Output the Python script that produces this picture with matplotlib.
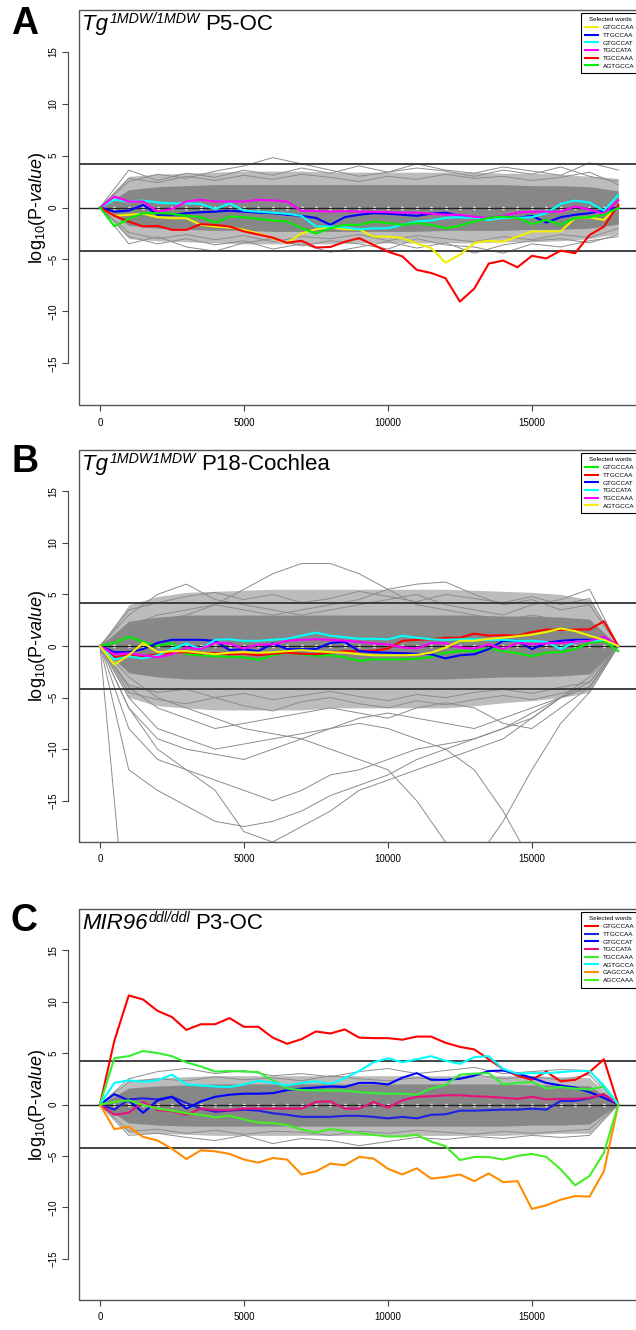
import numpy as np
import matplotlib
matplotlib.use('Agg')
import matplotlib.pyplot as plt
from matplotlib.patches import Rectangle

plt.rcParams['font.family'] = ['Liberation Sans', 'DejaVu Sans']
plt.rcParams['mathtext.fontset'] = 'custom'
plt.rcParams['mathtext.rm'] = 'Liberation Sans'
plt.rcParams['mathtext.it'] = 'Liberation Sans:italic'
plt.rcParams['mathtext.bf'] = 'Liberation Sans:bold'

nan = np.nan

# sample positions of the word curves
X = [0, 500, 1000, 1500, 2000, 2500, 3000, 3500, 4000, 4500, 5000, 5500, 6000,
     6500, 7000, 7500, 8000, 8500, 9000, 9500, 10000, 10500, 11000, 11500,
     12000, 12500, 13000, 13500, 14000, 14500, 15000, 15500, 16000, 16500,
     17000, 17500, 18000]
# coarse grid for the grey background bundle
GX = [0, 1000, 2000, 3000, 4000, 5000, 6000, 7000, 8000, 9000, 10000, 11000,
      12000, 13000, 14000, 15000, 16000, 17000, 18000]

# ---------------- panel A ----------------
A_words = ['GTGCCAA', 'TTGCCAA', 'GTGCCAT', 'TGCCATA', 'TGCCAAA', 'AGTGCCA']
A_colors = ['#f0f000', '#0000ff', '#00ffff', '#ff00ff', '#ff0000', '#00ee00']
A_yellow = [0, -0.8, -0.7, -0.6, -0.93, -1.03, -1.03, -1.67, -1.83, -1.93, -2.15, -2.5, -2.95,
            -3.4, -2.5, -2.1, -1.9, -2.1, -2.1, -2.8, -2.8, -2.95, -3.45, -3.9, -5.3, -4.55,
            -3.4, -3.2, -3.3, -2.8, -2.3, -2.3, -2.3, -1.0, -0.95, -1.2, 0.25]
A_blue = [0, -0.4, -0.3, 0.25, -0.7, -0.7, -0.55, -0.45, -0.4, -0.3, -0.4, -0.5, -0.55, -0.7,
          -0.8, -1.0, -1.67, -0.93, -0.7, -0.55, -0.6, -0.7, -0.8, -0.6, -0.5, -0.8, -0.93,
          -1.1, -0.87, -1.0, -0.8, -1.45, -0.93, -0.7, -0.55, -0.3, 0.05]
A_cyan = [0, 0.74, 0.58, 0.67, 0.48, 0.4, 0.4, 0.35, -0.15, 0.4, -0.3, -0.4, -0.5, -0.6, -0.8,
          -1.83, -1.83, -1.9, -2.1, -2.0, -2.0, -1.67, -1.35, -1.25, -1.0, -0.93, -1.0, -1.2,
          -1.0, -1.0, -0.93, -0.55, 0.35, 0.67, 0.48, -0.3, 1.2]
A_magenta = [0, 1.05, 0.58, 0.58, -0.4, -0.15, 0.58, 0.74, 0.58, 0.58, 0.58, 0.74, 0.67, 0.58,
             -0.32, -0.32, -0.4, -0.35, -0.4, -0.4, -0.45, -0.5, -0.5, -0.6, -0.7, -0.7, -0.9,
             -1.0, -0.8, -0.5, -0.4, -0.4, -0.4, 0.1, -0.2, -0.6, 0.7]
A_red = [0, -0.8, -1.35, -1.83, -1.77, -2.15, -2.15, -1.6, -1.68, -1.83, -2.3, -2.6, -2.9, -3.4,
         -3.2, -3.85, -3.8, -3.3, -2.95, -3.6, -4.25, -4.7, -6.0, -6.3, -6.8, -9.05, -7.8, -5.4,
         -5.1, -5.75, -4.65, -4.9, -4.15, -4.4, -2.65, -1.85, 0.25]
A_green = [0, -1.8, -1.1, -0.55, -0.55, -0.6, -0.8, -0.93, -1.45, -0.87, -0.93, -1.1, -1.25,
           -1.35, -2.0, -2.5, -2.0, -1.67, -1.67, -1.35, -1.5, -1.67, -1.5, -1.67, -2.0, -1.75,
           -1.35, -1.0, -0.87, -1.0, -1.6, -1.2, -1.67, -1.0, -0.93, -0.7, -0.05]
A_band_hi = [0, 3.0, 3.2, 3.3, 3.4, 3.5, 3.5, 3.5, 3.4, 3.4, 3.4, 3.4, 3.4, 3.4, 3.3, 3.3, 3.2, 3.0, 2.8]
A_band_lo = [0, -3.0, -3.2, -3.3, -3.4, -3.5, -3.5, -3.5, -3.5, -3.4, -3.4, -3.4, -3.4, -3.4, -3.3, -3.3, -3.2, -3.0, -2.5]
A_core_hi = [0, 1.7, 2.0, 2.1, 2.2, 2.2, 2.2, 2.2, 2.2, 2.2, 2.2, 2.2, 2.2, 2.2, 2.2, 2.1, 2.1, 2.0, 1.6]
A_core_lo = [0, -1.7, -2.0, -2.1, -2.2, -2.2, -2.3, -2.3, -2.3, -2.3, -2.3, -2.3, -2.2, -2.2, -2.2, -2.1, -2.1, -2.0, -1.6]
A_grey = [
    [0, 2.5, 3.2, 2.8, 3.5, 4.0, 4.8, 4.2, 3.6, 3.0, 3.4, 3.8, 3.5, 3.0, 3.6, 3.2, 3.9, 3.0, 2.5],
    [0, 3.6, 2.6, 3.3, 2.9, 3.6, 3.1, 3.8, 3.3, 4.0, 3.4, 4.2, 3.6, 3.3, 3.9, 3.5, 3.1, 4.3, 3.6],
    [0, 2.8, 2.4, 3.0, 2.6, 3.1, 2.7, 3.2, 2.9, 2.5, 3.0, 2.7, 3.2, 2.8, 3.0, 2.6, 2.9, 3.4, 2.2],
    [0, -2.8, -3.5, -3.0, -3.6, -3.2, -4.0, -3.5, -4.3, -3.8, -3.3, -3.9, -3.4, -4.4, -3.6, -3.2, -3.0, -3.4, -2.6],
    [0, -3.5, -2.8, -3.8, -4.2, -3.4, -3.0, -3.7, -3.2, -3.5, -4.0, -3.0, -3.6, -3.8, -4.4, -3.5, -3.8, -3.2, -2.8],
    [0, -2.4, -3.0, -2.6, -3.1, -2.7, -3.3, -2.8, -3.0, -2.6, -3.2, -2.7, -3.0, -3.3, -2.8, -3.1, -2.6, -2.9, -2.0],
]

# ---------------- panel B ----------------
B_words = ['GTGCCAA', 'TTGCCAA', 'GTGCCAT', 'TGCCATA', 'TGCCAAA', 'AGTGCCA']
B_colors = ['#00ee00', '#ff0000', '#0000ff', '#00ffff', '#ff00ff', '#f0f000']
B_green = [0, 0.3, 0.9, 0.4, 0, 0.3, -0.8, -0.9, -1.0, -1.05, -1.1, -1.35, -0.9, -0.65, -0.8,
           -0.95, -0.9, -1.1, -1.45, -1.3, -1.3, -1.3, -1.25, -1.05, -0.65, -0.5, -0.5, -0.25,
           -0.5, -0.7, -1.0, -0.65, -0.6, -0.3, 0.3, 0.5, -0.5]
B_red = [0, -1.1, -0.9, -1.0, -0.8, -0.65, -0.6, -0.7, -0.7, -0.8, -0.75, -0.9, -0.75, -0.65,
         -0.75, -0.8, -0.65, -0.5, -0.5, -0.45, -0.25, 0.5, 0.6, 0.65, 0.8, 0.8, 1.2, 1.0, 1.05,
         1.0, 1.35, 1.6, 1.55, 1.6, 1.6, 2.4, 0]
B_blue = [0, -0.6, -0.6, -0.3, 0.3, 0.6, 0.6, 0.6, 0.5, -0.4, -0.3, -0.5, 0.25, -0.3, -0.3, -0.3,
          0.3, 0.4, -0.5, -0.6, -0.65, -0.7, -0.75, -0.8, -1.2, -0.9, -0.8, -0.3, 0.5, 0.5, -0.3,
          0.3, 0.5, 0.6, 0.6, 0.65, 0]
B_cyan = [0, -1.3, -1.0, -1.2, -0.9, -0.3, 0.25, -0.3, 0.6, 0.65, 0.5, 0.5, 0.6, 0.7, 1.0, 1.3,
          1.0, 0.85, 0.7, 0.7, 0.65, 1.0, 0.8, 0.65, 0.6, 0.65, 0.65, 0.6, 0.6, 0.5, 0.5, 0.4,
          -0.3, 0.4, 0.5, 0.6, 0]
B_magenta = [0, -0.8, -0.7, -0.9, -1.1, -0.8, -0.15, -0.3, 0.3, 0.25, -0.25, 0.15, 0.15, 0.5, 0.6,
             0.65, 0.6, 0.5, 0.4, 0.25, 0.15, -0.15, -0.25, 0.3, 0.25, -0.15, -0.25, 0.15, -0.3,
             0.3, 0.15, 0.25, 0.3, 0.4, 0.5, 0.9, 0]
B_yellow = [0, -1.8, -0.9, 0.3, -0.6, -0.5, -0.5, -0.65, -0.8, -0.65, -0.6, -0.65, -0.6, -0.5,
            -0.4, -0.5, -0.6, -0.65, -0.8, -0.9, -0.9, -0.9, -0.85, -0.65, -0.15, 0.5, 0.5, 0.7,
            0.8, 0.95, 1.1, 1.35, 1.7, 1.45, 1.0, 0.6, 0]
B_band_hi = [0, 4.0, 4.8, 5.2, 5.3, 5.4, 5.5, 5.5, 5.5, 5.5, 5.5, 5.5, 5.5, 5.4, 5.3, 5.2, 5.0, 4.5, 0]
B_band_lo = [0, -5.0, -5.8, -6.0, -6.2, -6.2, -6.2, -6.2, -6.0, -6.0, -6.0, -6.0, -6.0, -5.8, -5.5, -5.3, -5.0, -4.5, 0]
B_core_hi = [0, 2.4, 2.8, 3.0, 3.0, 3.0, 3.0, 3.0, 3.0, 3.0, 3.0, 3.0, 3.0, 3.0, 2.9, 2.9, 2.8, 2.6, 0]
B_core_lo = [0, -2.6, -3.0, -3.2, -3.2, -3.2, -3.2, -3.2, -3.2, -3.2, -3.2, -3.2, -3.2, -3.1, -3.0, -3.0, -2.9, -2.7, 0]
B_grey = [
    [0, 1.5, 2.5, 3.0, 4.0, 5.5, 7.0, 8.0, 8.0, 7.0, 5.5, 4.0, 3.5, 3.0, 2.5, 3.0, 2.5, 2.0, 0],
    [0, 3.0, 5.0, 6.0, 4.5, 4.0, 3.5, 3.0, 3.5, 4.0, 4.5, 5.0, 4.0, 3.5, 3.0, 4.0, 4.5, 5.5, 0],
    [0, 2.0, 3.0, 3.5, 4.0, 3.5, 3.0, 3.5, 4.0, 4.5, 5.5, 6.0, 6.2, 5.0, 4.0, 4.5, 3.5, 4.0, 0],
    [0, 3.5, 4.2, 4.8, 5.2, 4.5, 5.0, 4.2, 4.6, 5.3, 4.8, 4.3, 5.0, 4.6, 4.2, 4.8, 4.0, 4.6, 0],
    [0, -6, -10, -12, -14, -18, -19, -17.5, -16, -14, -13, -12, -11, -10, -9, -7, -5, -4, 0],
    [0, -8, -11, -12, -13, -14, -15, -14, -12.5, -12, -11, -10, -9.5, -9, -8, -7, -5, -3, 0],
    [0, -5, -8, -9, -10, -9.5, -9, -8.5, -8, -7.5, -8, -9, -10, -12, -16, -21, nan, nan, nan],
    [0, -3, -5, -6, -7, -8, -8.5, -9, -10, -11, -12, -15, -19, -21, -17, -12, -7.5, -4.5, 0],
    [0, -30, nan, nan, nan, nan, nan, nan, nan, nan, nan, nan, nan, nan, nan, nan, nan, nan, nan],
    [0, -6, -9, -10, -10.5, -11, -10, -9, -8, -7, -6.5, -7, -7.5, -8, -7, -6, -5, -4, 0],
    [0, -4, -6, -7, -8, -7.5, -7, -6.5, -6, -6.5, -7, -6, -5.5, -6, -7.5, -8, -6, -4, 0],
    [0, -12, -14, -15.5, -17, -17.5, -17, -16, -14.5, -13.5, -12.5, -11, -10, -9, -8, -6.5, -5, -3.5, 0],
    [0, -4.5, -5.2, -5.6, -5.0, -5.8, -6.3, -5.4, -5.0, -5.6, -6.0, -5.3, -5.7, -5.2, -4.8, -5.2, -4.6, -4.0, 0],
    [0, -3.8, -4.5, -4.2, -5.0, -4.6, -5.2, -4.8, -4.4, -4.9, -5.3, -4.7, -5.0, -4.5, -4.2, -4.6, -4.0, -3.5, 0],
]

# ---------------- panel C ----------------
C_words = ['GTGCCAA', 'TTGCCAA', 'GTGCCAT', 'TGCCATA', 'TGCCAAA', 'AGTGCCA', 'GAGCCAA', 'AGCCAAA']
C_colors = ['#ff0000', '#2020e0', '#0000ff', '#e8107a', '#33ee33', '#00ffff', '#ff8c00', '#44ee22']
C_red = [0, 6.2, 10.6, 10.2, 9.1, 8.5, 7.25, 7.8, 7.8, 8.4, 7.55, 7.55, 6.5, 5.9, 6.35, 7.1, 6.9,
         7.3, 6.5, 6.45, 6.45, 6.3, 6.6, 6.6, 6.0, 5.6, 5.35, 4.4, 3.45, 2.8, 2.4, 3.2, 2.25, 2.4,
         3.15, 4.4, 0]
C_blue_lo = [0, -0.5, 0.5, 0.6, 0.5, 0.75, 0.15, -0.4, -0.7, -0.6, -0.5, -0.6, -0.85, -1.0, -1.2,
             -1.2, -1.2, -1.1, -1.1, -1.2, -1.35, -1.2, -1.35, -1.0, -0.95, -0.6, -0.6, -0.55,
             -0.5, -0.5, -0.4, -0.5, 0.35, 0.35, 0.6, 1.0, 0]
C_blue_hi = [0, 1.0, 0.4, -0.8, 0.4, 0.75, -0.4, 0.3, 0.75, 0.95, 1.05, 1.05, 1.1, 1.4, 1.55, 1.65,
             1.75, 1.7, 2.1, 2.1, 1.95, 2.6, 3.05, 2.4, 2.4, 2.5, 2.8, 3.25, 3.3, 3.0, 2.6, 2.1,
             1.85, 1.65, 1.2, 0.65, 0]
C_pink = [0, -1.0, -0.8, 0.25, -0.55, -0.65, -1.0, -0.4, -0.55, -0.55, -0.4, -0.4, -0.4, -0.4,
          -0.4, 0.25, 0.3, -0.4, -0.4, 0.25, -0.3, 0.4, 0.75, 0.8, 0.9, 0.9, 0.8, 0.75, 0.65,
          0.55, 0.75, 0.5, 0.55, 0.55, 0.65, 1.0, 0]
C_green_hi = [0, 4.5, 4.7, 5.2, 5.0, 4.7, 4.1, 3.7, 3.2, 3.25, 3.2, 3.15, 2.35, 1.55, 1.4, 1.35,
              1.35, 1.35, 1.2, 1.1, 1.05, 1.05, 0.95, 1.55, 1.9, 2.9, 3.0, 3.05, 1.95, 2.1, 2.2,
              1.55, 1.7, 1.55, 1.45, 1.75, 0]
C_cyan = [0, 2.1, 2.35, 2.2, 2.35, 2.9, 1.95, 1.85, 1.75, 1.7, 1.95, 2.3, 2.1, 1.85, 2.1, 2.25,
          2.0, 2.55, 3.25, 4.1, 4.5, 4.1, 4.4, 4.7, 4.25, 3.95, 4.6, 4.7, 3.45, 3.0, 3.05, 3.05,
          3.15, 3.25, 3.25, 1.85, 0]
C_orange = [0, -2.4, -2.15, -3.15, -3.5, -4.3, -5.3, -4.45, -4.55, -4.8, -5.35, -5.65, -5.2,
            -5.35, -6.8, -6.5, -5.75, -5.9, -5.1, -5.25, -6.25, -6.8, -6.2, -7.2, -7.05, -6.8,
            -7.45, -6.7, -7.55, -7.45, -10.15, -9.8, -9.25, -8.9, -8.95, -6.5, 0]
C_green_lo = [0, 0.25, 0.4, -0.05, -0.4, -0.6, -0.85, -1.0, -1.25, -1.1, -1.45, -1.75, -1.8, -2.0,
              -2.45, -2.7, -2.4, -2.55, -2.8, -2.95, -3.1, -3.1, -2.95, -3.6, -4.05, -5.4, -5.1,
              -5.1, -5.35, -5.0, -4.8, -5.1, -6.3, -7.85, -6.95, -4.7, 0]
C_band_hi = [0, 2.4, 2.6, 2.7, 2.8, 2.8, 2.8, 2.8, 2.8, 2.8, 2.8, 2.8, 2.8, 2.8, 2.8, 2.8, 2.7, 2.6, 0]
C_band_lo = [0, -2.8, -2.8, -2.9, -3.0, -3.0, -3.0, -3.0, -3.0, -3.0, -3.0, -3.0, -3.0, -3.0, -3.0, -2.9, -2.8, -2.8, 0]
C_core_hi = [0, 1.6, 1.8, 1.9, 2.0, 2.0, 2.0, 2.0, 2.0, 2.0, 2.0, 2.0, 2.0, 2.0, 2.0, 1.9, 1.9, 1.8, 0]
C_core_lo = [0, -1.8, -2.0, -2.1, -2.1, -2.1, -2.1, -2.1, -2.1, -2.1, -2.1, -2.1, -2.1, -2.1, -2.1, -2.0, -2.0, -1.9, 0]
C_grey = [
    [0, 2.5, 3.2, 3.5, 3.0, 3.3, 2.8, 3.0, 2.7, 3.2, 3.5, 3.0, 3.3, 3.6, 3.0, 3.2, 3.4, 3.3, 0],
    [0, 2.2, 2.5, 2.3, 2.7, 2.4, 2.6, 2.3, 2.8, 2.5, 2.3, 2.6, 2.4, 2.9, 2.5, 2.7, 2.4, 2.9, 0],
    [0, -3.0, -2.8, -3.2, -3.5, -3.0, -3.8, -3.3, -3.5, -4.0, -3.6, -3.2, -3.4, -3.1, -3.3, -3.0, -3.2, -3.0, 0],
    [0, -2.6, -2.4, -2.8, -2.5, -2.9, -2.6, -2.7, -3.0, -2.6, -2.8, -2.5, -2.7, -2.9, -2.6, -2.8, -2.6, -2.4, 0],
]

THRESH = 4.2
W, H = 636, 1330
LEFT_PX, RIGHT_PX = 79, 645


def draw_title(ax, base, sup, rest):
    r = fig.canvas.get_renderer()
    inv = ax.transAxes.inverted()
    t1 = ax.text(0.006, 0.99, base, transform=ax.transAxes, fontsize=16,
                 style='italic', ha='left', va='top', zorder=7)
    bb = t1.get_window_extent(r)
    x1, y1 = inv.transform((bb.x1 + 1, bb.y1 + 2))
    t2 = ax.text(x1, y1, sup, transform=ax.transAxes, fontsize=10.2,
                 style='italic', ha='left', va='top', zorder=7)
    bb2 = t2.get_window_extent(r)
    x2, _ = inv.transform((bb2.x1 + 5, bb2.y1))
    ax.text(x2, 0.99, rest, transform=ax.transAxes, fontsize=16,
            ha='left', va='top', zorder=7)


def draw_panel(rect, letter, letter_top, title, band, core, greys, series, words, colors):
    ax = fig.add_axes(rect)
    ax.fill_between(GX, band[0], band[1], color='#bcbcbc', lw=0, zorder=1)
    ax.fill_between(GX, core[0], core[1], color='#878787', lw=0, zorder=1.2)
    for g in greys:
        ax.plot(GX, g, color='#8c8c8c', lw=0.7, zorder=1.5)
    ax.plot(X[1:-1], [0] * (len(X) - 2), 'o', ms=2.6, mfc='white', mec='none', zorder=2)
    ax.axhline(0, color='#222222', lw=1.0, zorder=2.5)
    ax.axhline(THRESH, color='#333333', lw=1.3, zorder=2.5)
    ax.axhline(-THRESH, color='#333333', lw=1.3, zorder=2.5)
    for ys, w, c in zip(series, words, colors):
        ax.plot(X, ys, color=c, lw=1.5, label=w, zorder=3)

    ax.set_xlim(-728, 18928)
    ax.set_ylim(-19, 19)
    ax.set_xticks([0, 5000, 10000, 15000])
    ax.set_yticks([-15, -10, -5, 0, 5, 10, 15])
    for s in ['top', 'right', 'bottom']:
        ax.spines[s].set_visible(False)
    ax.spines['left'].set_position(('outward', 8))
    ax.spines['left'].set_bounds(-15, 15)
    ax.spines['left'].set_color('#444444')
    ax.spines['left'].set_linewidth(0.8)
    ax.add_patch(Rectangle((0, 0), 1, 1, transform=ax.transAxes, fill=False,
                           ec='#555555', lw=1.0, clip_on=False, zorder=5))
    ax.tick_params(labelsize=7, length=4, width=0.8, color='#444444')
    ax.tick_params(axis='x', pad=5)
    ax.tick_params(axis='y', pad=3)
    for lab in ax.get_yticklabels():
        lab.set_rotation(90)
        lab.set_va('center')

    # legend box starts at x = 581 px, 3 px below the top of the frame
    h_px = rect[3] * H
    anchor = ((581 - LEFT_PX) / (RIGHT_PX - LEFT_PX), 1 - 3 / h_px)
    leg = ax.legend(title='Selected words', loc='upper left', bbox_to_anchor=anchor,
                    borderaxespad=0, fontsize=4.6, title_fontsize=4.5, fancybox=False,
                    framealpha=1, edgecolor='black', handlelength=2.0, handletextpad=0.7,
                    labelspacing=0.35, borderpad=0.7)
    leg.get_frame().set_linewidth(0.8)
    leg.set_zorder(6)

    draw_title(ax, *title)
    fig.text(38 / W, rect[1] + rect[3] / 2, r'log$_{10}$(P-$\mathit{value}$)',
             rotation=90, fontsize=13, ha='center', va='center')
    fig.text(11 / W, 1 - letter_top / H, letter, fontsize=27, fontweight='bold',
             ha='left', va='top')
    return ax


fig = plt.figure(figsize=(6.36, 13.3), dpi=100)

left = LEFT_PX / W
width = (RIGHT_PX - LEFT_PX) / W

draw_panel([left, 1 - 405 / H, width, 395 / H], 'A', 6,
           ('Tg', '1MDW/1MDW', 'P5-OC'),
           (A_band_hi, A_band_lo), (A_core_hi, A_core_lo), A_grey,
           [A_yellow, A_blue, A_cyan, A_magenta, A_red, A_green], A_words, A_colors)

draw_panel([left, 1 - 842 / H, width, 392 / H], 'B', 444,
           ('Tg', '1MDW1MDW', 'P18-Cochlea'),
           (B_band_hi, B_band_lo), (B_core_hi, B_core_lo), B_grey,
           [B_green, B_red, B_blue, B_cyan, B_magenta, B_yellow], B_words, B_colors)

draw_panel([left, 1 - 1300 / H, width, 391 / H], 'C', 903,
           ('MIR96', 'ddl/ddl', 'P3-OC'),
           (C_band_hi, C_band_lo), (C_core_hi, C_core_lo), C_grey,
           [C_red, C_blue_lo, C_blue_hi, C_pink, C_green_hi, C_cyan, C_orange, C_green_lo],
           C_words, C_colors)

fig.savefig('out.png', dpi=100)
